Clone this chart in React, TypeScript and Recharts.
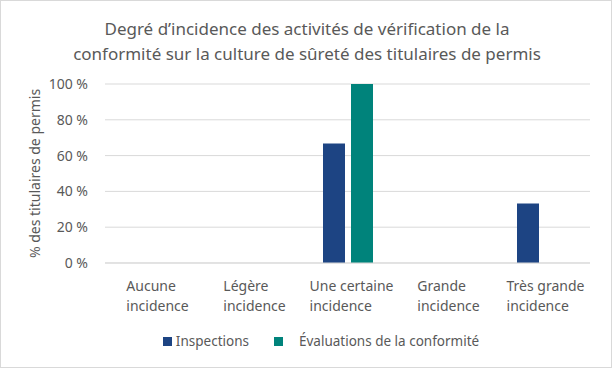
import { BarChart, Bar, XAxis, YAxis, CartesianGrid, Legend, Label } from "recharts";

const categories = ["Aucune incidence", "Légère incidence", "Une certaine incidence", "Grande incidence", "Très grande incidence"];
// line breaks as drawn in the reference
const tickLines = [
    ["Aucune", "incidence"],
    ["Légère", "incidence"],
    ["Une certaine", "incidence"],
    ["Grande", "incidence"],
    ["Très grande", "incidence"],
];
const inspections = [0, 0, 66.7, 0, 33.3];
const evaluations = [0, 0, 100, 0, 0];
const yTicks = [0, 20, 40, 60, 80, 100];

const data = categories.map((name, i) => ({
    name,
    inspections: inspections[i],
    evaluations: evaluations[i],
}));

const FONT = "'Noto Sans', 'Open Sans', sans-serif";
const TEXT = "#595959";
const NAVY = "#1d4483";
const TEAL = "#00837b";

let ctx: CanvasRenderingContext2D | null = null;
function measure(text: string, size: number) {
    if (!ctx) ctx = document.createElement("canvas").getContext("2d");
    if (!ctx) return text.length * size * 0.5;
    ctx.font = `${size}px 'Noto Sans'`;
    return ctx.measureText(text).width;
}

function CategoryTick(props: any) {
    const { x, y, index } = props;
    const lines = tickLines[index] || [props.payload.value];
    const w = Math.max(...lines.map((l: string) => measure(l, 14)));
    const left = x - w / 2 + 4;
    return (
        <text x={left} y={y + 20} fill={TEXT} fontSize={14} fontFamily={FONT} textAnchor="start">
            {lines.map((l: string, i: number) => (
                <tspan key={i} x={left} dy={i === 0 ? 0 : 20}>{l}</tspan>
            ))}
        </text>
    );
}

function LegendContent() {
    const items = [
        { label: "Inspections", color: NAVY },
        { label: "Évaluations de la conformité", color: TEAL },
    ];
    return (
        <div style={{ display: "flex", justifyContent: "center", alignItems: "center", height: 30, fontFamily: FONT, fontSize: 13.5, color: TEXT, paddingLeft: 30 }}>
            {items.map((it, i) => (
                <div key={i} style={{ display: "flex", alignItems: "center", marginRight: i === 0 ? 25 : 0 }}>
                    <span style={{ width: 9, height: 9, background: it.color, display: "inline-block", marginRight: i === 0 ? 4 : 16 }} />
                    <span>{it.label}</span>
                </div>
            ))}
        </div>
    );
}

export default function App() {
    return (
        <div style={{ position: "relative", width: 612, height: 368, boxSizing: "border-box", border: "1px solid #d9d9d9", background: "#fff", overflow: "hidden" }}>
            <style>{`body{margin:0}`}</style>
            <div style={{ position: "absolute", top: 15, left: 0, width: 612, textAlign: "center", fontFamily: FONT, fontSize: 17, lineHeight: "25px", color: TEXT }}>
                Degré d’incidence des activités de vérification de la
                <br />
                conformité sur la culture de sûreté des titulaires de permis
            </div>
            <div style={{ position: "absolute", top: -1, left: -1 }}>
                <BarChart
                    width={612}
                    height={368}
                    data={data}
                    margin={{ top: 84, right: 22, left: 45, bottom: 12 }}
                    barSize={22}
                    barGap={6}
                >
                    <CartesianGrid vertical={false} stroke="#d9d9d9" />
                    <XAxis dataKey="name" height={63} axisLine={{ stroke: "#d9d9d9" }} tickLine={false} tick={<CategoryTick />} interval={0} />
                    <YAxis
                        width={60}
                        domain={[0, 100]}
                        ticks={yTicks}
                        axisLine={false}
                        tickLine={false}
                        tickFormatter={(v: number) => `${v} %`}
                        tick={{ fill: TEXT, fontSize: 14, fontFamily: FONT }}
                        tickMargin={11}
                    >
                        <Label
                            value="% des titulaires de permis"
                            angle={-90}
                            position="insideLeft"
                            offset={-10}
                            fill={TEXT}
                            style={{ textAnchor: "middle", fill: TEXT, fontSize: 14, fontFamily: FONT }}
                        />
                    </YAxis>
                    <Legend verticalAlign="bottom" height={30} wrapperStyle={{ left: 0, width: 612 }} content={<LegendContent />} />
                    <Bar dataKey="inspections" name="Inspections" fill={NAVY} isAnimationActive={false} />
                    <Bar dataKey="evaluations" name="Évaluations de la conformité" fill={TEAL} isAnimationActive={false} />
                </BarChart>
            </div>
        </div>
    );
}
